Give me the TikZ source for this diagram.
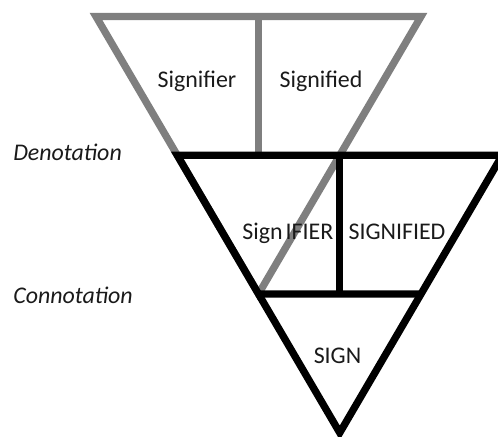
\documentclass[tikz,border=0pt]{standalone}
\usepackage{fontspec}
\setmainfont{Carlito}
\usetikzlibrary{calc}
\definecolor{ink}{HTML}{1A1A1A}
\definecolor{den}{HTML}{7F7F7F}
\tikzset{
  tri/.style={line width=5.2pt, line join=miter, line cap=butt},
  dentri/.style={tri, draw=den},
  contri/.style={tri, draw=black},
  lbl/.style={font=\fontsize{17}{20}\selectfont, text=ink, inner sep=0pt, anchor=base},
  side/.style={lbl, font=\fontsize{17}{20}\selectfont\itshape, anchor=base west},
}

\begin{document}
\begin{tikzpicture}
  \useasboundingbox (0,0) rectangle (12.45,-10.925);
  % denotation triangle
  \coordinate (ga) at (2.4,-0.4125);
  \coordinate (gb) at (10.525,-0.4125);
  \coordinate (gc) at (6.4625,-7.35);
  \coordinate (gt) at ($(ga)!.5!(gb)$);
  \coordinate (bl) at ($(ga)!.5!(gc)$);
  \coordinate (bm) at ($(gb)!.5!(gc)$);
  % connotation triangle, same size, hung from the left edge
  \coordinate (br) at ($(gb)+(bl)-(ga)$);
  \coordinate (bc) at ($(gc)+(bl)-(ga)$);
  \coordinate (bk) at ($(br)!.5!(bc)$);
  \draw[dentri] (ga) -- (gb) -- (gc) -- cycle;
  \draw[dentri] (gt) -- (gt |- bl);
  \draw[contri] (bl) -- (br) -- (bc) -- cycle;
  \draw[contri] (gc) -- (bk);
  \draw[contri] (bm) -- (bm |- gc);
  % labels
  \node[lbl] (sfr) at (4.925,-2.1875) {Signifier};
  \node[lbl] (sfd) at (8.025,-2.1875) {Signified};
  \node[side] (deno) at (0.325,-4.025) {Denotation};
  \node[side] (conno) at (0.325,-7.585) {Connotation};
  \node[lbl] (sign) at (6.5625,-6.0) {Sign};
  \node[lbl] (ifier) at (7.7375,-6.0) {IFIER};
  \node[lbl] (SFD) at (9.925,-6.0) {SIGNIFIED};
  \node[lbl] (SIGN) at (8.4375,-9.083) {SIGN};
\end{tikzpicture}
\end{document}
